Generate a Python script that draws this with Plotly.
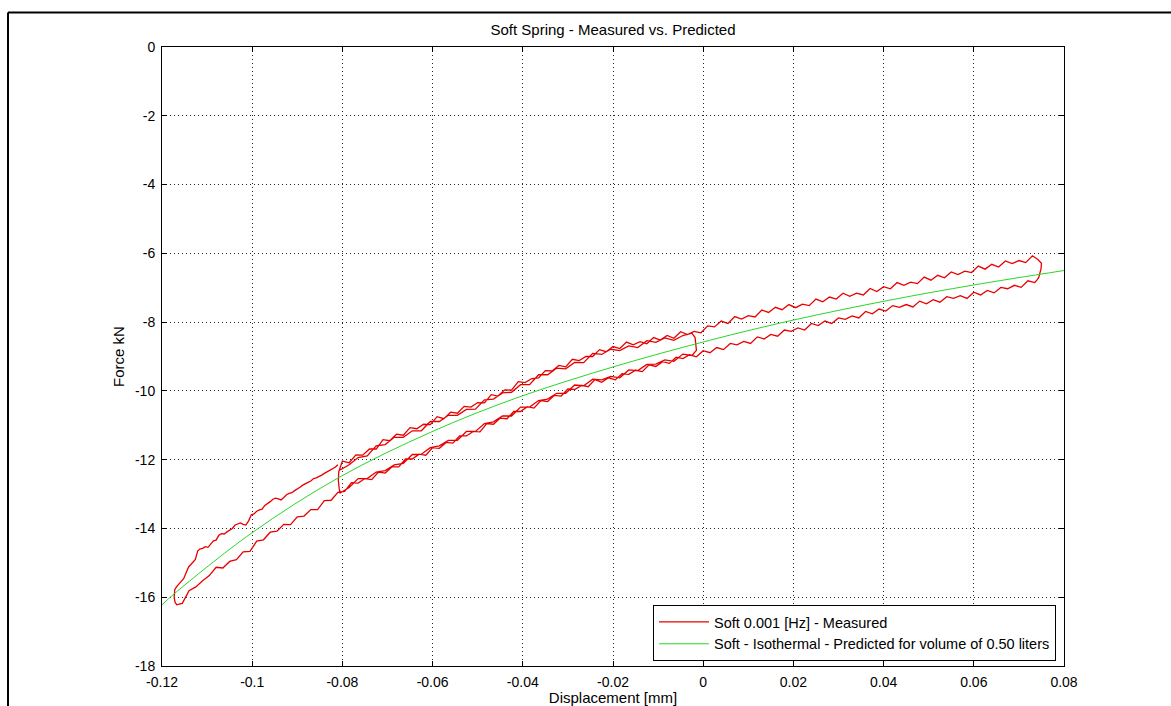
import plotly.graph_objects as go

# ---------------- data ----------------
# Small inner loop: upper branch (moving right), -0.0805 .. -0.0025 mm
s1_x = [-0.0805, -0.0785, -0.0765, -0.0745, -0.0725, -0.0705, -0.0685, -0.0665, -0.0645, -0.0625,
        -0.0605, -0.0585, -0.0565, -0.0545, -0.0525, -0.0505, -0.0485, -0.0465, -0.0445, -0.0425,
        -0.0405, -0.0385, -0.0365, -0.0345, -0.0325, -0.0305, -0.0285, -0.0265, -0.0245, -0.0225,
        -0.0205, -0.0185, -0.0165, -0.0145, -0.0125, -0.0105, -0.0085, -0.0065, -0.0045, -0.0025]
s1_f = [-12.30, -12.15, -11.94, -11.89, -11.60, -11.56, -11.35, -11.35, -11.16, -11.16,
        -10.89, -10.89, -10.71, -10.71, -10.54, -10.53, -10.26, -10.24, -10.06, -10.04,
        -9.82, -9.82, -9.53, -9.53, -9.34, -9.36, -9.17, -9.18, -8.91, -8.94,
        -8.79, -8.83, -8.69, -8.74, -8.54, -8.59, -8.46, -8.53, -8.39, -8.32]
# reversal near 0 mm
s2_x = [-0.0018, -0.0016, -0.0015]
s2_f = [-8.45, -8.65, -8.82]
# Small inner loop: lower branch (moving left)
s3_x = [-0.0025, -0.0045, -0.0065, -0.0085, -0.0105, -0.0125, -0.0145, -0.0165, -0.0185, -0.0205,
        -0.0225, -0.0245, -0.0265, -0.0285, -0.0305, -0.0325, -0.0345, -0.0365, -0.0385, -0.0405,
        -0.0425, -0.0445, -0.0465, -0.0485, -0.0505, -0.0525, -0.0545, -0.0565, -0.0585, -0.0605,
        -0.0625, -0.0645, -0.0665, -0.0685, -0.0705, -0.0725, -0.0745, -0.0765, -0.0785, -0.0805]
s3_f = [-8.97, -8.93, -9.14, -9.10, -9.22, -9.23, -9.41, -9.39, -9.62, -9.58,
        -9.68, -9.66, -9.85, -9.83, -10.07, -10.07, -10.24, -10.28, -10.47, -10.47,
        -10.73, -10.73, -10.90, -10.95, -11.18, -11.18, -11.44, -11.44, -11.60, -11.65,
        -11.84, -11.85, -12.11, -12.15, -12.32, -12.36, -12.55, -12.55, -12.81, -12.97]
# reversal near -0.08 mm
s4_x = [-0.0807, -0.0809, -0.0808]
s4_f = [-12.85, -12.60, -12.35]
# Large loop: upper branch (moving right), -0.08 .. 0.075 mm
s5_x = [-0.0800, -0.0785, -0.0770, -0.0755, -0.0740, -0.0725, -0.0710, -0.0695, -0.0680, -0.0665,
        -0.0650, -0.0635, -0.0620, -0.0605, -0.0590, -0.0575, -0.0560, -0.0545, -0.0530, -0.0515,
        -0.0500, -0.0485, -0.0470, -0.0455, -0.0440, -0.0425, -0.0410, -0.0395, -0.0380, -0.0365,
        -0.0350, -0.0335, -0.0320, -0.0305, -0.0290, -0.0275, -0.0260, -0.0245, -0.0230, -0.0215,
        -0.0200, -0.0185, -0.0170, -0.0155, -0.0140, -0.0125, -0.0110, -0.0095, -0.0080, -0.0065,
        -0.0050, -0.0035, -0.0020, -0.0005, 0.0010, 0.0025, 0.0040, 0.0055, 0.0070, 0.0085,
        0.0100, 0.0115, 0.0130, 0.0145, 0.0160, 0.0175, 0.0190, 0.0205, 0.0220, 0.0235,
        0.0250, 0.0265, 0.0280, 0.0295, 0.0310, 0.0325, 0.0340, 0.0355, 0.0370, 0.0385,
        0.0400, 0.0415, 0.0430, 0.0445, 0.0460, 0.0475, 0.0490, 0.0505, 0.0520, 0.0535,
        0.0550, 0.0565, 0.0580, 0.0595, 0.0610, 0.0625, 0.0640, 0.0655, 0.0670, 0.0685,
        0.0700, 0.0715, 0.0730, 0.0742, 0.0750]
s5_f = [-12.04, -12.09, -11.86, -11.87, -11.69, -11.69, -11.42, -11.45, -11.26, -11.29,
        -11.07, -11.10, -10.97, -10.98, -10.75, -10.81, -10.62, -10.65, -10.45, -10.47,
        -10.34, -10.35, -10.11, -10.15, -9.97, -9.98, -9.73, -9.76, -9.64, -9.62,
        -9.41, -9.42, -9.26, -9.30, -9.08, -9.12, -9.00, -9.00, -8.80, -8.86,
        -8.71, -8.77, -8.58, -8.66, -8.57, -8.63, -8.45, -8.52, -8.39, -8.47,
        -8.28, -8.36, -8.27, -8.31, -8.11, -8.14, -7.97, -8.04, -7.84, -7.91,
        -7.81, -7.85, -7.65, -7.72, -7.57, -7.64, -7.49, -7.58, -7.48, -7.52,
        -7.33, -7.41, -7.27, -7.33, -7.16, -7.25, -7.16, -7.21, -7.02, -7.11,
        -6.97, -7.03, -6.85, -6.93, -6.84, -6.88, -6.69, -6.78, -6.64, -6.71,
        -6.54, -6.62, -6.52, -6.56, -6.37, -6.46, -6.32, -6.40, -6.22, -6.30,
        -6.21, -6.27, -6.07, -6.18, -6.29]
# reversal at the right end
s6_x = [0.0749, 0.0747, 0.0744, 0.0740]
s6_f = [-6.45, -6.58, -6.70, -6.78]
# Large loop: lower branch (moving left), 0.0735 .. -0.1167 mm
s7_x = [0.0735, 0.0720, 0.0705, 0.0690, 0.0675, 0.0660, 0.0645, 0.0630, 0.0615, 0.0600,
        0.0585, 0.0570, 0.0555, 0.0540, 0.0525, 0.0510, 0.0495, 0.0480, 0.0465, 0.0450,
        0.0435, 0.0420, 0.0405, 0.0390, 0.0375, 0.0360, 0.0345, 0.0330, 0.0315, 0.0300,
        0.0285, 0.0270, 0.0255, 0.0240, 0.0225, 0.0210, 0.0195, 0.0180, 0.0165, 0.0150,
        0.0135, 0.0120, 0.0105, 0.0090, 0.0075, 0.0060, 0.0045, 0.0030, 0.0015, 0.0000,
        -0.0015, -0.0030, -0.0045, -0.0060, -0.0075, -0.0090, -0.0105, -0.0120, -0.0135, -0.0150,
        -0.0165, -0.0180, -0.0195, -0.0210, -0.0225, -0.0240, -0.0255, -0.0270, -0.0285, -0.0300,
        -0.0315, -0.0330, -0.0345, -0.0360, -0.0375, -0.0390, -0.0405, -0.0420, -0.0435, -0.0450,
        -0.0465, -0.0480, -0.0495, -0.0510, -0.0525, -0.0540, -0.0555, -0.0570, -0.0585, -0.0600,
        -0.0615, -0.0630, -0.0645, -0.0660, -0.0675, -0.0690, -0.0705, -0.0720, -0.0735, -0.0750,
        -0.0765, -0.0780, -0.0795, -0.0810, -0.0825, -0.0840, -0.0855, -0.0870, -0.0885, -0.0900,
        -0.0915, -0.0930, -0.0945, -0.0960, -0.0975, -0.0990, -0.1005, -0.1020, -0.1035, -0.1050,
        -0.1065, -0.1080, -0.1095, -0.1110, -0.1125, -0.1140, -0.1155, -0.1162, -0.1167]
s7_f = [-6.85, -6.80, -6.99, -6.93, -7.03, -6.99, -7.15, -7.08, -7.21, -7.13,
        -7.31, -7.23, -7.31, -7.26, -7.42, -7.35, -7.47, -7.39, -7.56, -7.49,
        -7.57, -7.52, -7.68, -7.62, -7.76, -7.69, -7.88, -7.82, -7.92, -7.88,
        -8.04, -7.97, -8.10, -8.04, -8.23, -8.17, -8.27, -8.23, -8.41, -8.36,
        -8.49, -8.43, -8.62, -8.56, -8.66, -8.62, -8.80, -8.74, -8.89, -8.83,
        -9.01, -8.95, -9.06, -9.02, -9.20, -9.15, -9.29, -9.24, -9.44, -9.40,
        -9.52, -9.50, -9.68, -9.62, -9.75, -9.67, -9.88, -9.84, -9.96, -9.94,
        -10.15, -10.13, -10.31, -10.28, -10.50, -10.46, -10.60, -10.60, -10.81, -10.79,
        -10.97, -10.95, -11.19, -11.18, -11.31, -11.31, -11.52, -11.50, -11.67, -11.65,
        -11.87, -11.84, -11.98, -11.98, -12.21, -12.21, -12.39, -12.36, -12.58, -12.55,
        -12.68, -12.67, -12.92, -12.95, -13.18, -13.19, -13.45, -13.45, -13.64, -13.66,
        -13.89, -13.88, -14.08, -14.11, -14.33, -14.37, -14.67, -14.68, -14.91, -14.96,
        -15.15, -15.13, -15.37, -15.52, -15.70, -15.81, -16.18, -16.20, -16.22]
# reversal at the left end
s8_x = [-0.1171, -0.1173, -0.1172]
s8_f = [-16.15, -16.00, -15.85]
# Large loop: upper branch, -0.1172 .. -0.081 mm
s9_x = [-0.1172, -0.1168, -0.1163, -0.1158, -0.1152, -0.1147, -0.1141, -0.1136, -0.1131, -0.1126,
        -0.1121, -0.1116, -0.1110, -0.1104, -0.1098, -0.1092, -0.1086, -0.1080, -0.1074, -0.1068,
        -0.1062, -0.1056, -0.1050, -0.1044, -0.1038, -0.1032, -0.1026, -0.1020, -0.1014, -0.1008,
        -0.1002, -0.0996, -0.0990, -0.0984, -0.0978, -0.0972, -0.0966, -0.0960, -0.0954, -0.0948,
        -0.0942, -0.0936, -0.0930, -0.0924, -0.0918, -0.0912, -0.0906, -0.0900, -0.0894, -0.0888,
        -0.0882, -0.0876, -0.0870, -0.0864, -0.0858, -0.0852, -0.0846, -0.0840, -0.0834, -0.0828,
        -0.0822, -0.0816, -0.0810]
s9_f = [-15.79, -15.70, -15.62, -15.55, -15.46, -15.30, -15.12, -15.05, -14.97, -14.90,
        -14.66, -14.60, -14.58, -14.53, -14.55, -14.44, -14.36, -14.34, -14.20, -14.15,
        -14.16, -14.10, -14.05, -14.00, -13.90, -13.86, -13.84, -13.88, -13.90, -13.78,
        -13.60, -13.58, -13.50, -13.46, -13.44, -13.33, -13.28, -13.22, -13.15, -13.12,
        -13.14, -13.17, -13.10, -13.02, -12.98, -12.96, -12.90, -12.86, -12.80, -12.74,
        -12.69, -12.66, -12.62, -12.55, -12.53, -12.50, -12.45, -12.40, -12.36, -12.30,
        -12.26, -12.22, -12.15]

# Predicted isothermal curve
pred_x = [-0.12, -0.1172, -0.1002, -0.0808, -0.0602, -0.0417, -0.0199, 0.0014, 0.02, 0.0414, 0.06, 0.08]
pred_f = [-16.22, -15.89, -14.14, -12.52, -11.19, -10.22, -9.30, -8.53, -7.94, -7.36, -6.92, -6.50]

x_tick_vals = [-0.12, -0.10, -0.08, -0.06, -0.04, -0.02, 0.0, 0.02, 0.04, 0.06, 0.08]
x_tick_text = ["-0.12", "-0.1", "-0.08", "-0.06", "-0.04", "-0.02", "0", "0.02", "0.04", "0.06", "0.08"]
y_tick_vals = [0, -2, -4, -6, -8, -10, -12, -14, -16, -18]
y_tick_text = ["0", "-2", "-4", "-6", "-8", "-10", "-12", "-14", "-16", "-18"]

name_meas = "Soft 0.001 [Hz] - Measured"
name_pred = "Soft - Isothermal - Predicted for volume of 0.50 liters"

# ---------------- figure ----------------
segs_x = [s1_x, s2_x, s3_x, s4_x, s5_x, s6_x, s7_x, s8_x, s9_x]
segs_f = [s1_f, s2_f, s3_f, s4_f, s5_f, s6_f, s7_f, s8_f, s9_f]
meas_x, meas_f = [], []
for sx, sf in zip(segs_x, segs_f):
    n = min(len(sx), len(sf))
    meas_x += sx[:n]
    meas_f += sf[:n]

fig = go.Figure()
fig.add_trace(go.Scatter(x=meas_x, y=meas_f, mode="lines", name=name_meas,
                         line=dict(color="rgb(232,0,0)", width=1.3)))
fig.add_trace(go.Scatter(x=pred_x, y=pred_f, mode="lines", name=name_pred,
                         line=dict(color="rgb(40,215,40)", width=1, shape="spline")))

FONT = "Liberation Sans, Arial, Helvetica, sans-serif"
L, R, T, B = 162, 107, 47, 40
W, H = 1171, 706
pw, ph = W - L - R, H - T - B

axis_common = dict(showline=True, linecolor="black", linewidth=1, mirror="ticks",
                   ticks="inside", ticklen=5, tickcolor="black", tickwidth=1,
                   showgrid=True, gridcolor="rgb(40,40,40)", gridwidth=1, griddash="1px,3px",
                   zeroline=False, tickfont=dict(family=FONT, size=14, color="black"))

fig.update_layout(
    width=W, height=H,
    margin=dict(l=L, r=R, t=T, b=B, autoexpand=False),
    paper_bgcolor="white", plot_bgcolor="white",
    font=dict(family=FONT, size=14, color="black"),
    title=dict(text="Soft Spring - Measured vs. Predicted", x=0.5, xref="paper", xanchor="center",
               y=1 - 30 / H, yref="container", yanchor="middle",
               font=dict(family=FONT, size=15, color="black")),
    xaxis=dict(range=[-0.12, 0.08], tickvals=x_tick_vals, ticktext=x_tick_text,
               ticklabelstandoff=3,
               title=dict(text="Displacement [mm]", font=dict(family=FONT, size=15), standoff=2),
               **axis_common),
    yaxis=dict(range=[-18, 0], tickvals=y_tick_vals, ticktext=y_tick_text,
               ticklabelstandoff=3,
               title=dict(text="Force kN", font=dict(family=FONT, size=15), standoff=6),
               **axis_common),
    legend=dict(x=(1056 - L) / pw, xanchor="right", y=(H - B - 661) / ph, yanchor="bottom",
                bgcolor="white", bordercolor="black", borderwidth=1, itemwidth=50,
                font=dict(family=FONT, size=14.5, color="black"), tracegroupgap=0),
    showlegend=True,
)

# outer frame lines (top and left edges of the figure window)
bx = (8 - L) / pw
by = (H - B - 12.5) / ph
fig.add_shape(type="line", xref="paper", yref="paper", x0=bx, x1=bx, y0=-0.2, y1=by,
              line=dict(color="black", width=2))
fig.add_shape(type="line", xref="paper", yref="paper", x0=bx, x1=1.2, y0=by, y1=by,
              line=dict(color="black", width=2))

fig.write_html("out.html")
